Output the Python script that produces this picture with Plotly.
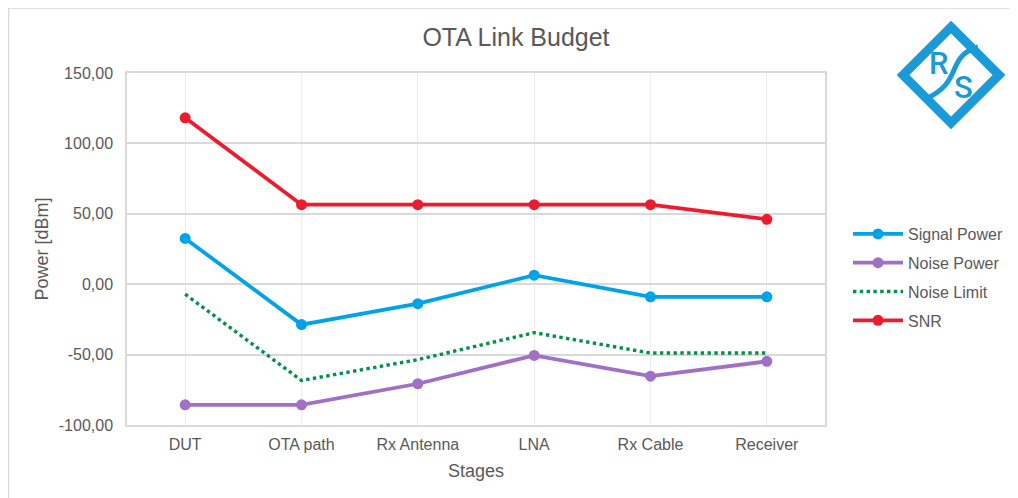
import plotly.graph_objects as go

stages = ["DUT", "OTA path", "Rx Antenna", "LNA", "Rx Cable", "Receiver"]
signal_power = [32.5, -28.7, -13.8, 6.4, -9.0, -9.0]
noise_power = [-85.7, -85.7, -70.7, -50.6, -65.3, -54.8]
noise_limit = [-7.1, -68.4, -53.6, -34.4, -48.9, -48.9]
snr = [118.2, 56.5, 56.5, 56.5, 56.5, 46.1]
y_ticks = [-100, -50, 0, 50, 100, 150]
y_tick_text = ["-100,00", "-50,00", "0,00", "50,00", "100,00", "150,00"]

OFF = 8  # page body margin offset
W, H = 1018 - OFF, 498 - OFF
L, R, T, B = 127 - OFF, 825 - OFF, 73 - OFF, 425 - OFF
FONT = "Liberation Sans, Arial, sans-serif"
GREY = "#595959"


def px(x):
    return (x - OFF - L) / (R - L)


def py(y):
    return (B - (y - OFF)) / (B - T)


fig = go.Figure()
series = [
    ("Signal Power", signal_power, "#00a2e8", "solid", True),
    ("Noise Power", noise_power, "#a070c6", "solid", True),
    ("Noise Limit", noise_limit, "#00924a", "dot", False),
    ("SNR", snr, "#ec1c2e", "solid", True),
]
for i, (name, vals, col, dash, mk) in enumerate(series):
    fig.add_trace(go.Scatter(
        x=stages, y=vals, name=name, legendgroup=str(i),
        mode="lines+markers" if mk else "lines",
        line=dict(color=col, width=3.8 if mk else 3.4, dash=dash),
        marker=dict(size=11, color=col),
    ))

shapes = []
# outer chart frame
shapes.append(dict(type="rect", xref="paper", yref="paper",
                   x0=px(8.5), x1=px(1040), y0=py(8), y1=py(520),
                   line=dict(color="#d9d9d9", width=1.5), layer="below"))

# R&S logo
lc = "#1a9ad6"
cx, cy, hw = 951, 75, 48
pts = [(cx, cy - hw), (cx + hw, cy), (cx, cy + hw), (cx - hw, cy)]
d = "M " + " L ".join(f"{px(a):.5f},{py(b):.5f}" for a, b in pts) + " Z"
shapes.append(dict(type="path", xref="paper", yref="paper", path=d,
                   line=dict(color=lc, width=9)))
c = [(926, 99), (944, 90), (949, 82), (954, 70), (959, 58), (964, 51), (978, 47)]
d2 = (f"M {px(c[0][0]):.5f},{py(c[0][1]):.5f} "
      f"C {px(c[1][0]):.5f},{py(c[1][1]):.5f} {px(c[2][0]):.5f},{py(c[2][1]):.5f} {px(c[3][0]):.5f},{py(c[3][1]):.5f} "
      f"C {px(c[4][0]):.5f},{py(c[4][1]):.5f} {px(c[5][0]):.5f},{py(c[5][1]):.5f} {px(c[6][0]):.5f},{py(c[6][1]):.5f}")
shapes.append(dict(type="path", xref="paper", yref="paper", path=d2,
                   line=dict(color=lc, width=5)))

annotations = [
    dict(x=px(939), y=py(63), xref="paper", yref="paper", text="R", showarrow=False,
         font=dict(family="Roboto", size=31, color=lc, weight=500),
         xanchor="center", yanchor="middle"),
    dict(x=px(963), y=py(87), xref="paper", yref="paper", text="S", showarrow=False,
         font=dict(family="Roboto", size=31, color=lc, weight=500),
         xanchor="center", yanchor="middle"),
]

fig.update_layout(
    width=W, height=H,
    margin=dict(l=L, r=W - R, t=T, b=H - B, autoexpand=False),
    paper_bgcolor="white", plot_bgcolor="white",
    font=dict(family=FONT, color=GREY, size=16),
    title=dict(text="OTA Link Budget", x=px(516), xanchor="center", xref="paper",
               y=1 - (37 - OFF) / H, yanchor="middle",
               font=dict(size=25, color=GREY, family=FONT)),
    legend=dict(x=px(848), y=py(217), xanchor="left", yanchor="top",
                font=dict(size=16, color=GREY, family=FONT),
                traceorder="grouped", tracegroupgap=5, itemwidth=50,
                bgcolor="rgba(0,0,0,0)"),
    shapes=shapes, annotations=annotations,
    xaxis=dict(range=[-0.5, len(stages) - 0.5],
               showgrid=True, gridcolor="#ececec", gridwidth=1,
               showline=True, linecolor="#d9d9d9", linewidth=1.5, mirror=True,
               ticks="", ticklabelstandoff=4, tickfont=dict(size=16, color=GREY),
               title=dict(text="Stages", font=dict(size=18, color=GREY), standoff=12),
               zeroline=False),
    yaxis=dict(range=[-100, 150], tickvals=y_ticks, ticktext=y_tick_text,
               showgrid=True, gridcolor="#d9d9d9", gridwidth=1.5,
               showline=True, linecolor="#d9d9d9", linewidth=1.5, mirror=True,
               ticks="", ticklabelstandoff=9, tickfont=dict(size=16, color=GREY),
               title=dict(text="Power [dBm]", font=dict(size=18, color=GREY), standoff=5),
               zeroline=False),
)

fig.write_html("out.html")
